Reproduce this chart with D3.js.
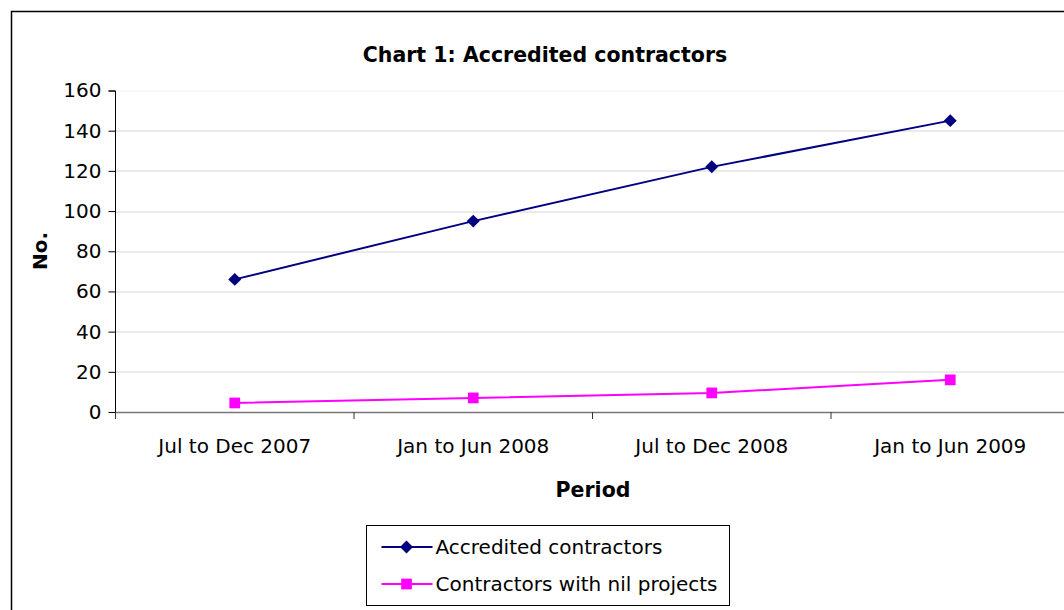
<!DOCTYPE html>
<html>
<head>
<meta charset="utf-8">
<script src="https://cdn.jsdelivr.net/npm/d3@7"></script>
<style>
  body { margin: 0; background: #fff; }
  text { font-family: "DejaVu Sans", Verdana, sans-serif; fill: #000; }
</style>
</head>
<body>
<div id="chart"></div>
<script>
// Data
var periods = ["Jul to Dec 2007", "Jan to Jun 2008", "Jul to Dec 2008", "Jan to Jun 2009"];
var accredited = [66, 95, 122, 145];
var nilProjects = [4.5, 7, 9.5, 16];
var yTicks = [0, 20, 40, 60, 80, 100, 120, 140, 160];
var seriesNames = ["Accredited contractors", "Contractors with nil projects"];
var seriesColors = ["#000080", "#ff00ff"];

var W = 1064, H = 610;
var margin = {left: 115.5, top: 90.5, right: -5.5, bottom: 198};
var plotW = W - margin.left - margin.right;
var plotH = H - margin.top - margin.bottom;

var svg = d3.select('#chart').append('svg')
  .attr('width', W)
  .attr('height', H);

// outer chart border (runs off the right and bottom edges)
svg.append('rect')
  .attr('x', 11.5).attr('y', 11.5)
  .attr('width', W + 20).attr('height', H + 20)
  .attr('fill', 'none').attr('stroke', '#000').attr('stroke-width', 1.5);

var g = svg.append('g')
  .attr('transform', `translate(${margin.left}, ${margin.top})`);

var x = d3.scaleBand().domain(periods).range([0, plotW]);
var y = d3.scaleLinear().domain([0, 160]).range([plotH, 0]);

// gridlines
g.selectAll('.grid')
  .data(yTicks.filter((d) => d > 0))
  .enter().append('line')
  .attr('class', 'grid')
  .attr('x1', 0).attr('x2', plotW)
  .attr('y1', (d) => Math.round(y(d)) + 0.5)
  .attr('y2', (d) => Math.round(y(d)) + 0.5)
  .attr('stroke', (d) => d === 160 ? '#f2f2f2' : '#d4d4d4');

// y axis
var yAxis = d3.axisLeft(y).tickValues(yTicks).tickSize(7).tickPadding(7);
var yG = g.append('g').call(yAxis);
yG.select('.domain').attr('stroke', '#000').attr('d', `M-7,0.5H0V${plotH}`);
yG.selectAll('.tick line').attr('stroke', '#000');
yG.selectAll('.tick text').attr('font-size', 20);

// x axis
var xAxis = d3.axisBottom(x).tickSize(0).tickPadding(27);
var xG = g.append('g')
  .attr('transform', `translate(0, ${plotH})`)
  .call(xAxis);
xG.select('.domain').attr('stroke', '#777').attr('stroke-width', 1.5);
xG.selectAll('.tick text').attr('font-size', 20);

// category boundary ticks
g.selectAll('.xtick')
  .data(d3.range(periods.length + 1))
  .enter().append('line')
  .attr('x1', (i) => i * x.step())
  .attr('x2', (i) => i * x.step())
  .attr('y1', plotH).attr('y2', plotH + 7)
  .attr('stroke', '#333');

var line = d3.line()
  .x((d, i) => x(periods[i]) + x.bandwidth() / 2)
  .y((d) => y(d));

var series = [accredited, nilProjects];
// diamond = square rotated 45 degrees
var markerRot = [45, 0];
var markerSizes = [84, 115];
var marker = d3.symbol().type(d3.symbolSquare);

series.forEach(function(vals, s) {
  g.append('path')
    .datum(vals)
    .attr('d', line)
    .attr('fill', 'none')
    .attr('stroke', seriesColors[s])
    .attr('stroke-width', 2);
  g.selectAll('.pt' + s)
    .data(vals)
    .enter().append('path')
    .attr('class', 'pt' + s)
    .attr('transform', (d, i) => `translate(${x(periods[i]) + x.bandwidth() / 2}, ${y(d)}) rotate(${markerRot[s]})`)
    .attr('d', marker.size(markerSizes[s])())
    .attr('fill', seriesColors[s]);
});

// title and axis labels
svg.append('text')
  .attr('x', 545).attr('y', 62)
  .attr('text-anchor', 'middle')
  .attr('font-size', 20.5).attr('font-weight', 'bold')
  .text('Chart 1: Accredited contractors');

svg.append('text')
  .attr('transform', 'translate(47, 251) rotate(-90)')
  .attr('text-anchor', 'middle')
  .attr('font-size', 20).attr('font-weight', 'bold')
  .text('No.');

svg.append('text')
  .attr('x', 593).attr('y', 497)
  .attr('text-anchor', 'middle')
  .attr('font-size', 20.5).attr('font-weight', 'bold')
  .text('Period');

// legend
var legend = svg.append('g').attr('transform', 'translate(366.5, 525.5)');
legend.append('rect')
  .attr('width', 363).attr('height', 80)
  .attr('fill', '#fff').attr('stroke', '#000');

seriesNames.forEach(function(name, s) {
  var ly = 21.5 + s * 37;
  legend.append('line')
    .attr('x1', 15).attr('x2', 66)
    .attr('y1', ly).attr('y2', ly)
    .attr('stroke', seriesColors[s]).attr('stroke-width', 2);
  legend.append('path')
    .attr('transform', `translate(40, ${ly}) rotate(${markerRot[s]})`)
    .attr('d', marker.size(markerSizes[s])())
    .attr('fill', seriesColors[s]);
  legend.append('text')
    .attr('x', 69).attr('y', ly + 7)
    .attr('font-size', 20)
    .text(name);
});
</script>
</body>
</html>
